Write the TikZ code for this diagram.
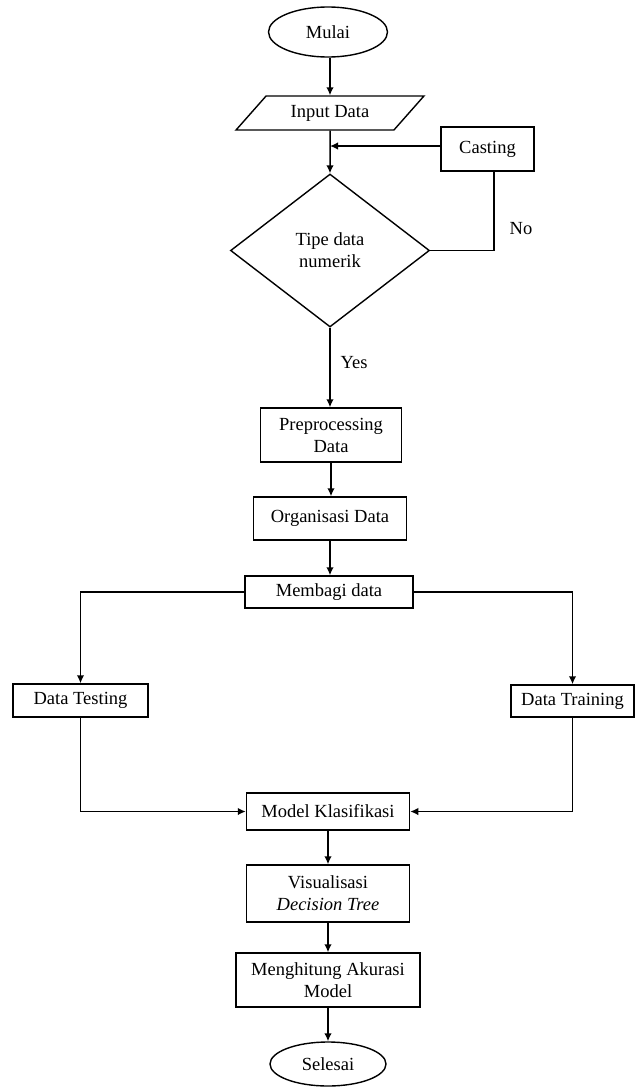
\documentclass[tikz,border=0pt]{standalone}
\usepackage{fontspec}
\setmainfont{Liberation Serif}
\usetikzlibrary{shapes.geometric,arrows.meta}
\begin{document}
\begin{tikzpicture}[x=1pt,y=-1pt,
  font=\fontsize{18.5}{22}\selectfont,
  every node/.style={inner sep=0pt, align=center},
  box/.style={draw, line width=1.5pt, rectangle},
  term/.style={draw, line width=1.4pt, ellipse},
  conn/.style={line width=1.5pt},
  arr/.style={conn, -{Latex[length=8pt,width=7.5pt]}}
]
\useasboundingbox (0,0) rectangle (635,1087);
\node[term, minimum width=119, minimum height=50] (mulai) at (328,32) {Mulai};
\node[draw, line width=1.4pt, trapezium, trapezium stretches=true, trapezium left angle=41, trapezium right angle=139, minimum width=188, minimum height=34] (inp) at (330,113) {Input Data};
\node[box, minimum width=93, minimum height=44] (cast) at (487.5,149) {Casting};
\node[draw, line width=1.4pt, diamond, minimum width=199, minimum height=153] (dia) at (330,250.5) {Tipe data\\numerik};
\node[box, minimum width=141, minimum height=54] (pre) at (331,435) {Preprocessing\\Data};
\node[box, minimum width=153, minimum height=43] (org) at (330,518.5) {Organisasi Data};
\node[box, minimum width=168, minimum height=32] (mem) at (329,592) {Membagi data};
\node[box, minimum width=135, minimum height=33] (test) at (80.5,700.5) {Data Testing};
\node[box, minimum width=123, minimum height=32] (train) at (572.5,701) {Data Training};
\node[box, minimum width=163, minimum height=37] (model) at (328,811.5) {Model Klasifikasi};
\node[box, minimum width=163, minimum height=57] (vis) at (328,893.5) {Visualisasi\\\textit{Decision Tree}};
\node[box, minimum width=184, minimum height=54] (acc) at (328,980) {Menghitung Akurasi\\Model};
\node[term, minimum width=116, minimum height=44] (end) at (328,1064) {Selesai};
\node (yes) at (354,363) {Yes};
\node (no) at (521,229) {No};
\coordinate (j) at (330,146);
\coordinate (c) at (494,171);
\draw[arr] (mulai.south -| inp) -- (inp.north -| inp);
\draw[arr] (inp.south) -- (dia.north);
\draw[arr] (cast.west |- j) -- (j);
\draw[conn] (dia.east) -| (c);
\draw[arr] (dia.south) -- (pre.north -| dia.south);
\draw[arr] (pre.south) -- (org.north -| pre.south);
\draw[arr] (org.south) -- (mem.north -| org.south);
\draw[arr] (mem.west) -| (test.north);
\draw[arr] (mem.east) -| (train.north);
\draw[arr] (test.south) |- (model.west);
\draw[arr] (train.south) |- (model.east);
\draw[arr] (model.south) -- (vis.north);
\draw[arr] (vis.south) -- (acc.north);
\draw[arr] (acc.south) -- (end.north);
\end{tikzpicture}
\end{document}
